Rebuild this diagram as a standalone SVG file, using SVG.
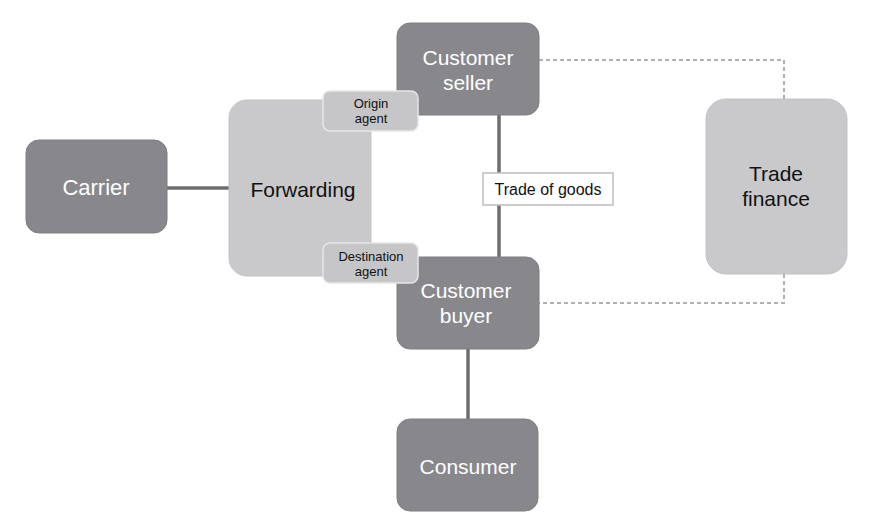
<svg xmlns="http://www.w3.org/2000/svg" width="880" height="532" viewBox="0 0 880 532">
<style>
.dark{fill:#88888c;stroke:#7e7e82;stroke-width:1}
.light{fill:#c9c9cb;stroke:#c2c2c4;stroke-width:1}
.agent{fill:#c6c6c8;stroke:#e6e6e6;stroke-width:1.5}
.wt{font-family:"Liberation Sans",Arial,sans-serif;font-size:21px;fill:#ffffff;text-anchor:middle}
.bt{font-family:"Liberation Sans",Arial,sans-serif;font-size:21px;fill:#111111;text-anchor:middle}
.st{font-family:"Liberation Sans",Arial,sans-serif;font-size:13px;fill:#111111;text-anchor:middle}
.solid{stroke:#6e6e70;stroke-width:3.5;fill:none}
.dash{stroke:#b0b0b0;stroke-width:2;stroke-dasharray:4 3;fill:none}
</style>
<rect width="880" height="532" fill="#ffffff"/>
<g id="connectors">
<line class="solid" x1="167" y1="188" x2="230" y2="188"/>
<line class="solid" x1="499" y1="115" x2="499" y2="258"/>
<line class="solid" x1="468" y1="349" x2="468" y2="420"/>
<polyline class="dash" points="539,60 784,60 784,99"/>
<polyline class="dash" points="784,274 784,303 539,303"/>
</g>
<g id="carrier">
<rect class="dark" x="26" y="140" width="141" height="93" rx="13"/>
<text class="wt" x="96" y="195" style="font-size:22px">Carrier</text>
</g>
<g id="forwarding">
<rect class="light" x="229" y="100" width="142" height="176" rx="18"/>
<text class="bt" x="303" y="197">Forwarding</text>
</g>
<g id="customer-seller">
<rect class="dark" x="397" y="23" width="142" height="92" rx="13"/>
<text class="wt" x="468" y="65">Customer</text>
<text class="wt" x="468" y="90">seller</text>
</g>
<g id="customer-buyer">
<rect class="dark" x="397" y="257" width="142" height="92" rx="13"/>
<text class="wt" x="466" y="298">Customer</text>
<text class="wt" x="466" y="323">buyer</text>
</g>
<g id="consumer">
<rect class="dark" x="397" y="419" width="141" height="92" rx="13"/>
<text class="wt" x="468" y="474">Consumer</text>
</g>
<g id="origin-agent">
<rect class="agent" x="323" y="91" width="95" height="40" rx="7"/>
<text class="st" x="371" y="108">Origin</text>
<text class="st" x="371" y="123">agent</text>
</g>
<g id="destination-agent">
<rect class="agent" x="323" y="243" width="95" height="40" rx="7"/>
<text class="st" x="371" y="261">Destination</text>
<text class="st" x="371" y="276">agent</text>
</g>
<g id="trade-of-goods">
<rect x="483" y="173" width="130" height="32" fill="#ffffff" stroke="#bdbdbd" stroke-width="1.5"/>
<text x="548" y="195" style="font-family:'Liberation Sans',Arial,sans-serif;font-size:16px;fill:#111111;text-anchor:middle">Trade of goods</text>
</g>
<g id="trade-finance">
<rect class="light" x="706" y="99" width="141" height="175" rx="20"/>
<text class="bt" x="776" y="181">Trade</text>
<text class="bt" x="776" y="206">finance</text>
</g>
</svg>
